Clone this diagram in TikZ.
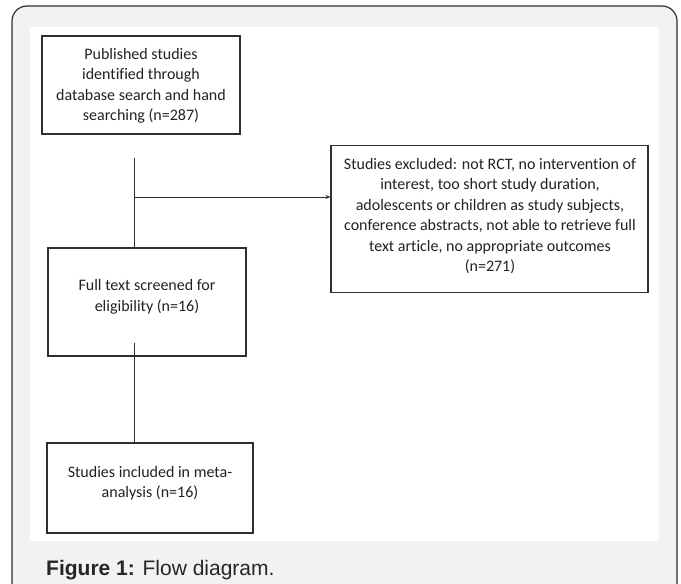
\documentclass[tikz,border=0pt]{standalone}
\usepackage{fontspec}
\setmainfont{Carlito}[RawFeature={-liga}]
\newfontfamily\capfont{Liberation Sans}
\usetikzlibrary{arrows.meta,calc}
\definecolor{panelgray}{HTML}{F1F2F4}
\definecolor{framecol}{HTML}{2E2E2E}
\definecolor{txtcol}{HTML}{222222}
\tikzset{
  flowbox/.style={draw=framecol, line width=1.1pt, fill=white, align=center,
    text=txtcol, font=\fontsize{16}{21}\selectfont, inner sep=0pt},
  flowtext/.style={text=txtcol, align=center, font=\fontsize{16}{20.5}\selectfont, inner sep=0pt},
  conn/.style={draw=framecol, line width=0.9pt},
}
\begin{document}
\begin{tikzpicture}[x=1pt,y=-1pt]
\useasboundingbox (0,0) rectangle (681,584);
% outer frame
\draw[fill=panelgray, draw=framecol, line width=1.2pt, rounded corners=15pt] (12,6) rectangle (677,600);
\fill[white] (30,27) rectangle (659,541);
% boxes
\node[flowbox, minimum width=198pt, minimum height=98pt] (b1) at (141,85) {};
\node[flowtext] (t1) at (141,86)
  {Published studies\\identified through\\database search and hand\\searching (n=287)};
\node[flowbox, minimum width=317pt, minimum height=147pt] (b3) at (489.5,219) {};
\node[flowtext] (t3) at (490,216)
  {Studies excluded: not RCT, no intervention of\\interest, too short study duration,\\adolescents or children as study subjects,\\conference abstracts, not able to retrieve full\\text article, no appropriate outcomes\\(n=271)};
\node[flowbox, minimum width=198pt, minimum height=108pt] (b2) at (147,302) {};
\node[flowtext] (t2) at (147,297)
  {Full text screened for\\eligibility (n=16)};
\node[flowbox, minimum width=206pt, minimum height=90pt] (b4) at (150,488) {};
\node[flowtext] (t4) at (150,483)
  {Studies included in meta-\\analysis (n=16)};
% connectors
\coordinate (a) at (134,158);
\coordinate (br) at (134,197);
\coordinate (c) at (134,343);
\draw[conn] (a) -- (a |- b2.north);
\draw[conn, -{Stealth[length=5pt,width=4pt]}] (br) -- (br -| b3.west);
\draw[conn] (c) -- (c |- b4.north);
% caption
\node[anchor=base west, inner sep=0pt, font=\capfont\fontsize{21}{24}\selectfont, text=black!85] (cap) at (46,575)
  {\textbf{Figure 1:} Flow diagram.};
\end{tikzpicture}
\end{document}
